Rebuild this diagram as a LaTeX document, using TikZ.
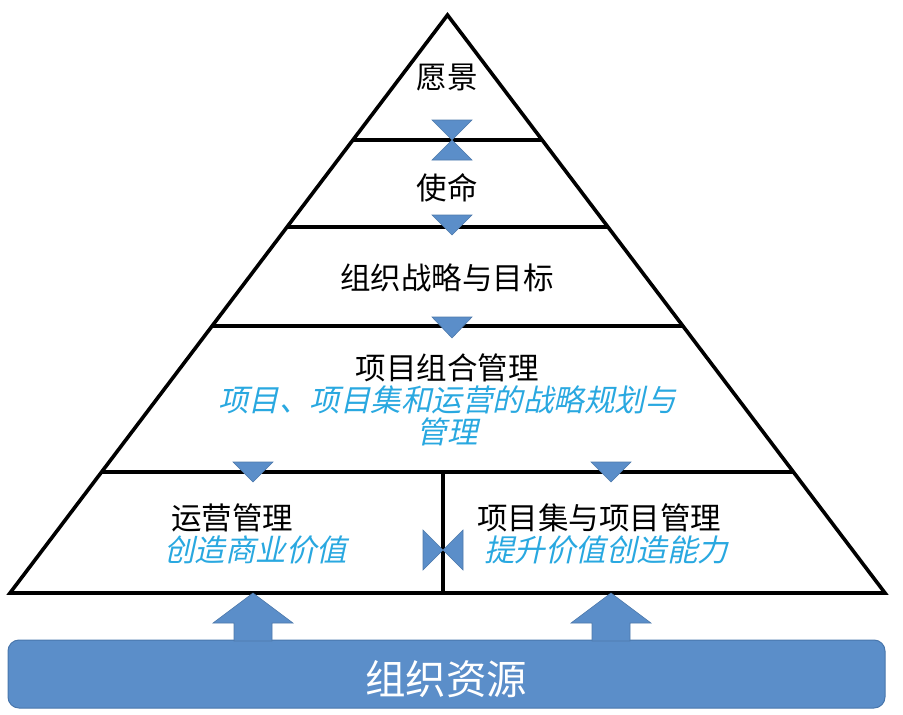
\documentclass[tikz,border=0pt]{standalone}
\usepackage{fontspec}
\usetikzlibrary{calc}
\newfontfamily\cjk{Noto Sans CJK SC}
\newfontfamily\cjkit{Noto Sans CJK SC}[FakeSlant=0.22]
\definecolor{shapeblue}{RGB}{91,142,201}
\definecolor{shapeedge}{RGB}{72,118,172}
\definecolor{textblue}{RGB}{41,168,224}
\begin{document}
\begin{tikzpicture}[x=1pt,y=-1pt,
  lvl/.style={line width=3.6pt,black},
  bluemark/.style={fill=shapeblue,draw=shapeblue!85!black,line width=0.6pt},
  blk/.style={font=\cjk\fontsize{30.5}{32}\selectfont,inner sep=0pt},
  blu/.style={font=\cjkit\fontsize{30.5}{32}\selectfont,text=textblue,inner sep=0pt},
]
\useasboundingbox (0,0) rectangle (903,715);
\coordinate (apex) at (447.5,15);
\coordinate (bl) at (10,593);
\coordinate (br) at (885,593);
% level lines
\foreach \t/\n in {0.2163/a,0.3668/b,0.5381/c,0.7907/d}{
  \coordinate (L\n) at ($(apex)!\t!(bl)$);
  \coordinate (R\n) at ($(apex)!\t!(br)$);
  \draw[lvl] (L\n) -- (R\n);
}
\coordinate (dtop) at (443,472);
\coordinate (dbot) at (443,593);
\draw[lvl] (dtop) -- (dbot);
\draw[lvl,line join=miter] (apex) -- (bl) -- (br) -- cycle;
% hourglass
\fill[bluemark] (432,120) -- (472,120) -- (452,140) -- cycle;
\fill[bluemark] (432,160) -- (472,160) -- (452,140) -- cycle;
% down triangles
\fill[bluemark] (432,215) -- (472,215) -- (452,235) -- cycle;
\fill[bluemark] (432,317) -- (472,317) -- (452,338) -- cycle;
\fill[bluemark] (233,462) -- (273,462) -- (253,482) -- cycle;
\fill[bluemark] (591,462) -- (631,462) -- (611,482) -- cycle;
% bowtie
\fill[bluemark] (423,530) -- (423,570) -- (443,550) -- cycle;
\fill[bluemark] (463,530) -- (463,570) -- (443,550) -- cycle;
% bar
\draw[fill=shapeblue,draw=shapeedge,line width=1pt,rounded corners=11pt] (8,640) rectangle (885,708);
\node[font=\cjk\fontsize{40.5}{42}\selectfont,text=white,inner sep=0pt] (res) at (446,679) {组织资源};
% up arrows
\foreach \cx in {253,611}{
  \fill[bluemark] (\cx,593) -- (\cx+40,623) -- (\cx+19,623) -- (\cx+19,641) -- (\cx-19,641) -- (\cx-19,623) -- (\cx-40,623) -- cycle;
}
% texts
\node[blk] (vision) at (447,78) {愿景};
\node[blk] (mission) at (447,188) {使命};
\node[blk] (strategy) at (447,278) {组织战略与目标};
\node[blk] (pfm) at (447,368) {项目组合管理};
\node[blu] (pfm1) at (447,400) {项目、项目集和运营的战略规划与};
\node[blu] (pfm2) at (447,432) {管理};
\node[blk,anchor=west] (ops) at (171,518) {运营管理};
\node[blu,anchor=west] (ops2) at (164,550) {创造商业价值};
\node[blk,anchor=west] (pgm) at (477,518) {项目集与项目管理};
\node[blu,anchor=west] (pgm2) at (484,550) {提升价值创造能力};
\end{tikzpicture}
\end{document}
